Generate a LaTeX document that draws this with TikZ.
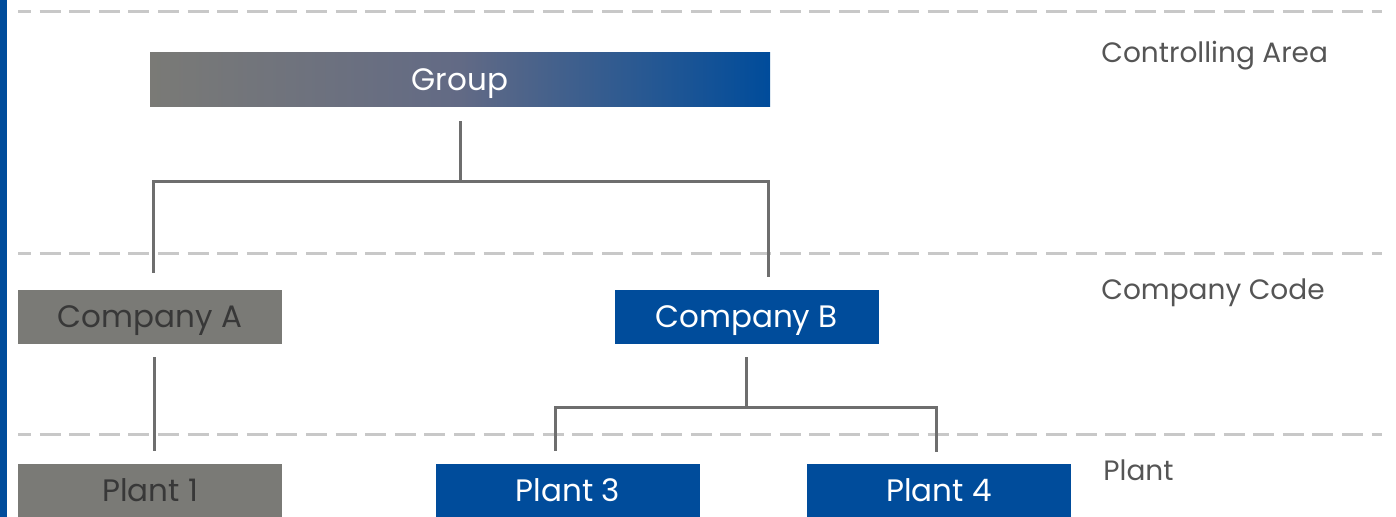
\documentclass[tikz,border=0pt]{standalone}
\usepackage{fontspec}
\setmainfont{Poppins}
\definecolor{sapblue}{HTML}{004C9B}
\definecolor{boxgray}{HTML}{7A7A76}
\definecolor{midgray}{HTML}{626A85}
\definecolor{linegray}{HTML}{6E6E6E}
\definecolor{dashgray}{HTML}{C8C8C8}
\definecolor{labelgray}{HTML}{555555}
\definecolor{darktext}{HTML}{383838}
\tikzset{
  unit/.style={minimum width=132pt, minimum height=27pt, inner sep=0pt, text height=10.9pt, text depth=0pt, font=\fontsize{15.5}{15.5}\selectfont},
  grayunit/.style={unit, fill=boxgray, text=darktext},
  blueunit/.style={unit, fill=sapblue, text=white},
  link/.style={draw=linegray, line width=1.5pt},
  level/.style={draw=dashgray, line width=1.5pt, dash pattern=on 10.5pt off 4.3pt, dash phase=4pt},
  levelname/.style={anchor=west, text=labelgray, inner sep=0pt, text height=9.8pt, text depth=0pt, font=\fontsize{14}{14}\selectfont}
}
\begin{document}
\begin{tikzpicture}[x=0.5pt,y=-0.5pt]
		\useasboundingbox (0,0) rectangle (1396,517);
		\fill[sapblue] (0,0) rectangle (7,517);
		% levels
		\draw[level] (18,12) -- (1382,12);
		\draw[level] (18,254) -- (1382,254);
		\draw[level] (18,435) -- (1382,435);
		\node[levelname] (lca) at (1101,52.5) {Controlling Area};
		\node[levelname] (lcc) at (1101,290) {Company Code};
		\node[levelname] (lpl) at (1103,471) {Plant};
		% units
		\node[unit, minimum width=310pt, left color=boxgray, right color=sapblue, middle color=midgray, text=white] (grp) at (460,80) {Group};
		\node[grayunit] (ca) at (150,317) {Company A};
		\node[blueunit] (cb) at (746.5,317) {Company B};
		\node[grayunit] (p1) at (150,491) {Plant 1};
		\node[blueunit] (p3) at (568,491) {Plant 3};
		\node[blueunit] (p4) at (939,491) {Plant 4};
		% links
		\coordinate (gja) at (153,273);
		\coordinate (gjb) at (768,277);
		\coordinate (bj3) at (555,451);
		\coordinate (bj4) at (936,452);
		\draw[link] ([yshift=-7pt]grp.south) -- ++(0,60) coordinate (gj);
		\draw[link] (gja) |- (gj) -| (gjb);
		\draw[link] ([xshift=2pt,yshift=-6.5pt]ca.south) -- ([xshift=2pt,yshift=6.5pt]p1.north);
		\draw[link] ([yshift=-6.5pt]cb.south) -- ++(0,50) coordinate (bj);
		\draw[link] (bj3) |- (bj) -| (bj4);
\end{tikzpicture}
\end{document}
